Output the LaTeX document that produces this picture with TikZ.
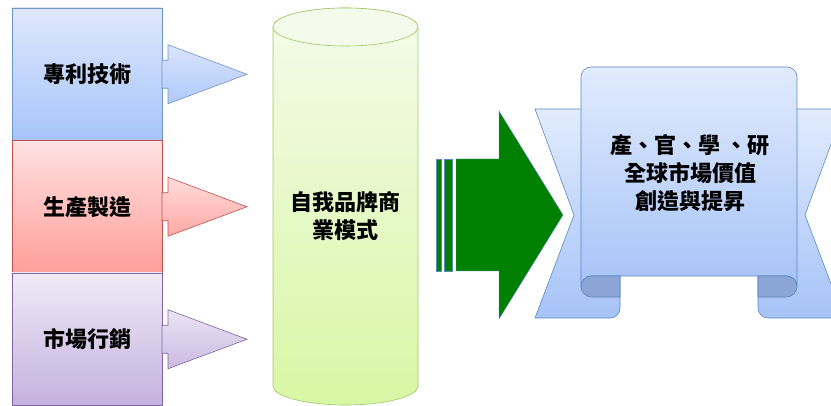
\documentclass[tikz,border=0pt]{standalone}
\usepackage{fontspec}
\newfontfamily\cjk{Noto Sans CJK TC}
\usepackage{tikz}
\usetikzlibrary{positioning}

\definecolor{techtop}{HTML}{DFE8FB}
\definecolor{techbot}{HTML}{A6C4FA}
\definecolor{techline}{HTML}{6F95C8}
\definecolor{prodtop}{HTML}{FFE2E2}
\definecolor{prodbot}{HTML}{FF9E99}
\definecolor{prodline}{HTML}{C0504D}
\definecolor{mkttop}{HTML}{EFEAF7}
\definecolor{mktbot}{HTML}{C4B1DE}
\definecolor{mktline}{HTML}{8064A2}
\definecolor{cyltop}{HTML}{F4FBEA}
\definecolor{cylbot}{HTML}{D8F7A4}
\definecolor{cylline}{HTML}{A3C76A}
\definecolor{bantop}{HTML}{E1EBFD}
\definecolor{banbot}{HTML}{A6C3F7}
\definecolor{banline}{HTML}{5A88C4}
\definecolor{banfold}{HTML}{8AA5D6}
\definecolor{goarrow}{HTML}{008000}

\begin{document}
\begin{tikzpicture}[
    x = 1pt, y = 1pt, % one unit per pixel
    every node/.style = {font=\cjk\bfseries\fontsize{22}{28}\selectfont},
    semithick % line style
    ]

    \tikzset{
    itembox/.style = {
        rectangle,
        minimum width = 150pt,
        minimum height = 132.5pt,
        inner sep = 0pt,
        outer sep = 0pt
        },
    techbox/.style = {itembox, draw = techline, top color = techtop, bottom color = techbot},
    prodbox/.style = {itembox, draw = prodline, top color = prodtop, bottom color = prodbot},
    mktbox/.style = {itembox, draw = mktline, top color = mkttop, bottom color = mktbot},
    banner/.style = {draw = banline, top color = bantop, bottom color = banbot},
    bannerfold/.style = {draw = banline, fill = banfold}
    }

    \clip (0,0) rectangle (831,405);

    % left column
    \node[techbox] (tech) at (87,330.75) {專利技術};
    \node[prodbox] (prod) [below=0pt of tech] {生產製造};
    \node[mktbox] (mkt) [below=0pt of prod] {市場行銷};

    % block arrows out of the column
    \path[draw=techline, top color=techtop!90!techbot, bottom color=techbot!85!techtop]
        (tech.east) ++(0,14) -- ++(6,0) -- ++(0,15.5) -- ++(79,-29.5)
        -- ++(-79,-29.5) -- ++(0,15.5) -- ++(-6,0) -- cycle;
    \path[draw=prodline, top color=prodtop!90!prodbot, bottom color=prodbot!85!prodtop]
        (prod.east) ++(0,14) -- ++(6,0) -- ++(0,15.5) -- ++(79,-29.5)
        -- ++(-79,-29.5) -- ++(0,15.5) -- ++(-6,0) -- cycle;
    \path[draw=mktline, top color=mkttop!90!mktbot, bottom color=mktbot!85!mkttop]
        (mkt.east) ++(0,14) -- ++(6,0) -- ++(0,15.5) -- ++(79,-29.5)
        -- ++(-79,-29.5) -- ++(0,15.5) -- ++(-6,0) -- cycle;

    % cylinder
    \path[draw=cylline, top color=cyltop, bottom color=cylbot]
        (273,378) -- (273,19)
        arc[start angle=180, end angle=360, x radius=72.5, y radius=19]
        -- (418,378)
        arc[start angle=0, end angle=180, x radius=72.5, y radius=19] -- cycle;
    \draw[cylline, fill=cyltop] (345.5,378) ellipse[x radius=72.5, y radius=19];
    \node[align=center] (brand) at (345.5,189) {自我品牌商\\業模式};

    % big green arrow
    \path[draw=banline, line width=0.4pt, fill=goarrow] (436,134) rectangle (441,246);
    \path[draw=banline, line width=0.4pt, fill=goarrow] (444,134) rectangle (452,246);
    \path[draw=banline, line width=0.4pt, fill=goarrow]
        (456,246) -- (499,246) -- (499,294) -- (563,190)
        -- (499,86) -- (499,134) -- (456,134) -- cycle;

    % ribbon
    \path[banner] (535,296) -- (620,296) -- (620,97)
        arc[start angle=0, end angle=-90, radius=10] -- (535,87) -- (574,190) -- cycle;
    \path[banner] (844,296) -- (758,296) -- (758,97)
        arc[start angle=180, end angle=270, radius=10] -- (844,87) -- (805,190) -- cycle;
    \path[banner] (581,118.5) -- (581,328)
        arc[start angle=180, end angle=90, radius=10] -- (787,338)
        arc[start angle=90, end angle=0, radius=10] -- (797,118.5)
        arc[start angle=0, end angle=90, radius=10.5] -- (591.5,129)
        arc[start angle=90, end angle=180, radius=10.5] -- cycle;
    \path[bannerfold] (620,129) -- (591.5,129)
        arc[start angle=90, end angle=270, radius=10.5] -- (620,108) -- cycle;
    \path[bannerfold] (758,129) -- (786.5,129)
        arc[start angle=90, end angle=-90, radius=10.5] -- (758,108) -- cycle;
    \node[align=center] (goal) at (690,232) {產、官、學 、研\\全球市場價值\\創造與提昇};
\end{tikzpicture}
\end{document}
